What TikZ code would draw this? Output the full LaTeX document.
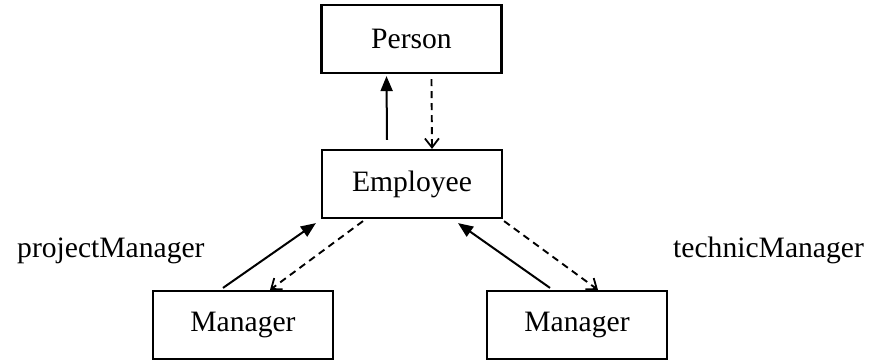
\documentclass[tikz,border=0pt]{standalone}
\usepackage{fontspec}
\setmainfont{Liberation Serif}
\usetikzlibrary{arrows.meta,positioning}
\tikzset{
    % Classes
    classbox/.style={
        rectangle,
        draw=black,
        line width=2.2pt,
        fill=white,
        minimum width=180pt,
        minimum height=68pt,
        align=center
    },
    % Arrows
    arrow/.style={
        -{Triangle[length=15pt,width=12pt]},
        line width=2pt,
        draw=black
    },
    dashedarrow/.style={
        -{Straight Barb[length=9pt,width=14pt,line width=1.8pt]},
        line width=1.9pt,
        draw=black,
        dash pattern=on 7pt off 5pt
    },
    % Labels
    rolelabel/.style={
        inner sep=0pt,
        anchor=base west
    }
}
\begin{document}
\begin{tikzpicture}[
    x=1pt, y=1pt,
    every node/.style={font=\fontsize{29.6}{34}\selectfont}
]
    \useasboundingbox (0,0) rectangle (871,360);

    % Classes
    \node[classbox] (person) at (411.5,321) {Person};
    \node[classbox] (employee) at (412,176) {Employee};
    \node[classbox] (leftmgr) at (243,35) {Manager};
    \node[classbox] (rightmgr) at (577,35) {Manager};

    % Role names
    \node[rolelabel] (projlabel) at (17,103) {projectManager};
    \node[rolelabel] (techlabel) at (673,103) {technicManager};

    % Arrows
    \draw[arrow] ([xshift=-25pt,yshift=9pt]employee.north) -- ([xshift=-25pt,yshift=-2pt]person.south);
    \draw[dashedarrow] ([xshift=20pt,yshift=-5pt]person.south) -- ([xshift=20pt]employee.north);

    \draw[arrow] ([xshift=-20pt,yshift=2pt]leftmgr.north) -- ([xshift=-5pt,yshift=-4pt]employee.south west);
    \draw[dashedarrow] ([xshift=-49pt,yshift=-2pt]employee.south) -- ([xshift=27pt]leftmgr.north);

    \draw[arrow] ([xshift=-27pt,yshift=2pt]rightmgr.north) -- ([xshift=46pt,yshift=-4pt]employee.south);
    \draw[dashedarrow] ([xshift=1pt,yshift=-2pt]employee.south east) -- ([xshift=21pt]rightmgr.north);

\end{tikzpicture}
\end{document}
